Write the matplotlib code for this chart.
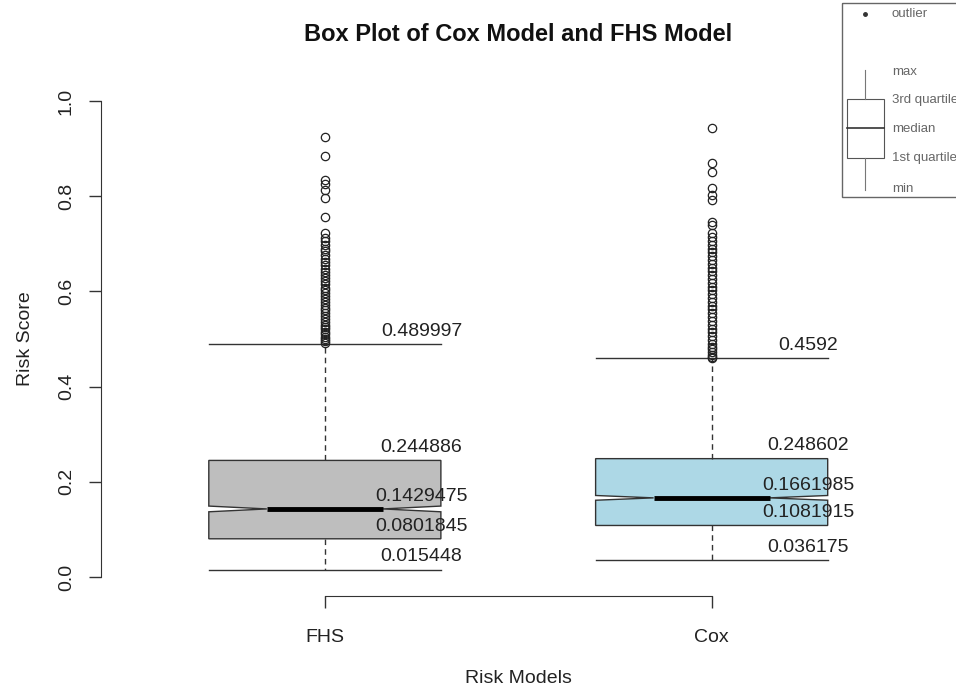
import matplotlib.pyplot as plt
from matplotlib.patches import Rectangle
import numpy as np

plt.rcParams['font.family'] = ['Liberation Sans', 'DejaVu Sans']

# data
models = ['FHS', 'Cox']
q1 = [0.0801845, 0.1081915]
med = [0.1429475, 0.1661985]
q3 = [0.244886, 0.248602]
whislo = [0.015448, 0.036175]
whishi = [0.489997, 0.4592]
notch_half = [0.006, 0.005]
box_colors = ['#BEBEBE', '#ADD8E6']

fhs_out = [0.924, 0.884, 0.834, 0.826, 0.813, 0.796, 0.756, 0.722, 0.712,
           0.705, 0.698, 0.690, 0.684, 0.676, 0.668, 0.662, 0.655, 0.648,
           0.641, 0.635, 0.628, 0.622, 0.615, 0.608, 0.602, 0.596, 0.590,
           0.584, 0.578, 0.572, 0.566, 0.560, 0.554, 0.548, 0.542, 0.536,
           0.530, 0.525, 0.520, 0.515, 0.510, 0.505, 0.500, 0.495, 0.491]
cox_out = [0.943, 0.870, 0.851, 0.817, 0.802, 0.792, 0.746, 0.740, 0.722,
           0.714, 0.706, 0.698, 0.690, 0.682, 0.674, 0.666, 0.658, 0.650,
           0.642, 0.634, 0.626, 0.618, 0.610, 0.602, 0.594, 0.586, 0.578,
           0.570, 0.562, 0.554, 0.546, 0.538, 0.530, 0.522, 0.514, 0.506,
           0.498, 0.490, 0.484, 0.478, 0.472, 0.467, 0.463, 0.460]
outliers = [fhs_out, cox_out]

legend_items = ['outlier', 'max', '3rd quartile', 'median', '1st quartile', 'min']

fig = plt.figure(figsize=(9.56, 6.93), dpi=100)
ax = fig.add_axes([100.5 / 956, 97 / 693, 835.5 / 956, 514 / 693])

stats = []
for i in range(len(models)):
    stats.append(dict(med=med[i], q1=q1[i], q3=q3[i], whislo=whislo[i],
                      whishi=whishi[i], cilo=med[i] - notch_half[i],
                      cihi=med[i] + notch_half[i], fliers=outliers[i]))

bp = ax.bxp(stats, positions=[1, 2], widths=0.6, capwidths=0.6,
            shownotches=True, patch_artist=True,
            boxprops=dict(edgecolor='#333333', linewidth=1),
            medianprops=dict(color='black', linewidth=3.5, solid_capstyle='butt'),
            whiskerprops=dict(color='#333333', linewidth=1, linestyle=(0, (4, 3))),
            capprops=dict(color='#333333', linewidth=1),
            flierprops=dict(marker='o', markerfacecolor='none',
                            markeredgecolor='#222222', markersize=6,
                            markeredgewidth=0.9))
for patch, c in zip(bp['boxes'], box_colors):
    patch.set_facecolor(c)

# value labels beside each box
for i in range(len(models)):
    xpos = i + 1 + 0.25
    for v in [whishi[i], q3[i], med[i], q1[i], whislo[i]]:
        ax.annotate(str(v), (xpos, v), xytext=(0, 3), textcoords='offset points',
                    ha='center', va='bottom', fontsize=14, color='#222222')

ax.set_xlim(0.42, 2.58)
ax.set_ylim(-0.04, 1.04)
for s in ['top', 'right']:
    ax.spines[s].set_visible(False)
ax.spines['left'].set_bounds(0, 1)
ax.spines['bottom'].set_bounds(1, 2)
for s in ['left', 'bottom']:
    ax.spines[s].set_color('#333333')
ax.set_xticks([1, 2])
ax.set_xticklabels(models)
ax.set_yticks(np.arange(0, 1.01, 0.2))
ax.set_yticklabels(['%.1f' % t for t in np.arange(0, 1.01, 0.2)], rotation=90, va='center')
ax.tick_params(axis='both', length=8.5, width=1, color='#333333', labelsize=14,
               labelcolor='#222222')
ax.tick_params(axis='x', pad=15)
ax.tick_params(axis='y', pad=10)
ax.set_ylabel('Risk Score', fontsize=14, color='#222222')
ax.yaxis.set_label_coords(-0.080, 0.5)
ax.set_xlabel('Risk Models', fontsize=14, color='#222222')
ax.xaxis.set_label_coords(0.5, -0.143)

fig.text(518 / 956, 652 / 693, 'Box Plot of Cox Model and FHS Model',
         ha='center', va='baseline', fontsize=17, fontweight='bold', color='#111111')

# key diagram in the top right corner (pixel coordinates)
lg = fig.add_axes([0, 0, 1, 1], facecolor='none')
lg.set_xlim(0, 956)
lg.set_ylim(693, 0)
lg.axis('off')
lg.add_patch(Rectangle((842, 3), 130, 194, fill=False, edgecolor='#666666', lw=1))
lg.plot([865], [14], marker='o', markersize=2.5, color='#333333')
lg.plot([865, 865], [70, 99], color='#777777', lw=0.8)
lg.plot([865, 865], [158, 190], color='#777777', lw=0.8)
lg.add_patch(Rectangle((847, 99), 37, 59, fill=False, edgecolor='#555555', lw=0.8))
lg.plot([847, 884], [128, 128], color='#333333', lw=1.2)
for txt, yy in zip(legend_items, [14, 72, 100, 129, 158, 189]):
    lg.text(892, yy, txt, fontsize=9.5, color='#666666', va='center', ha='left')

fig.savefig('out.png', dpi=100)
